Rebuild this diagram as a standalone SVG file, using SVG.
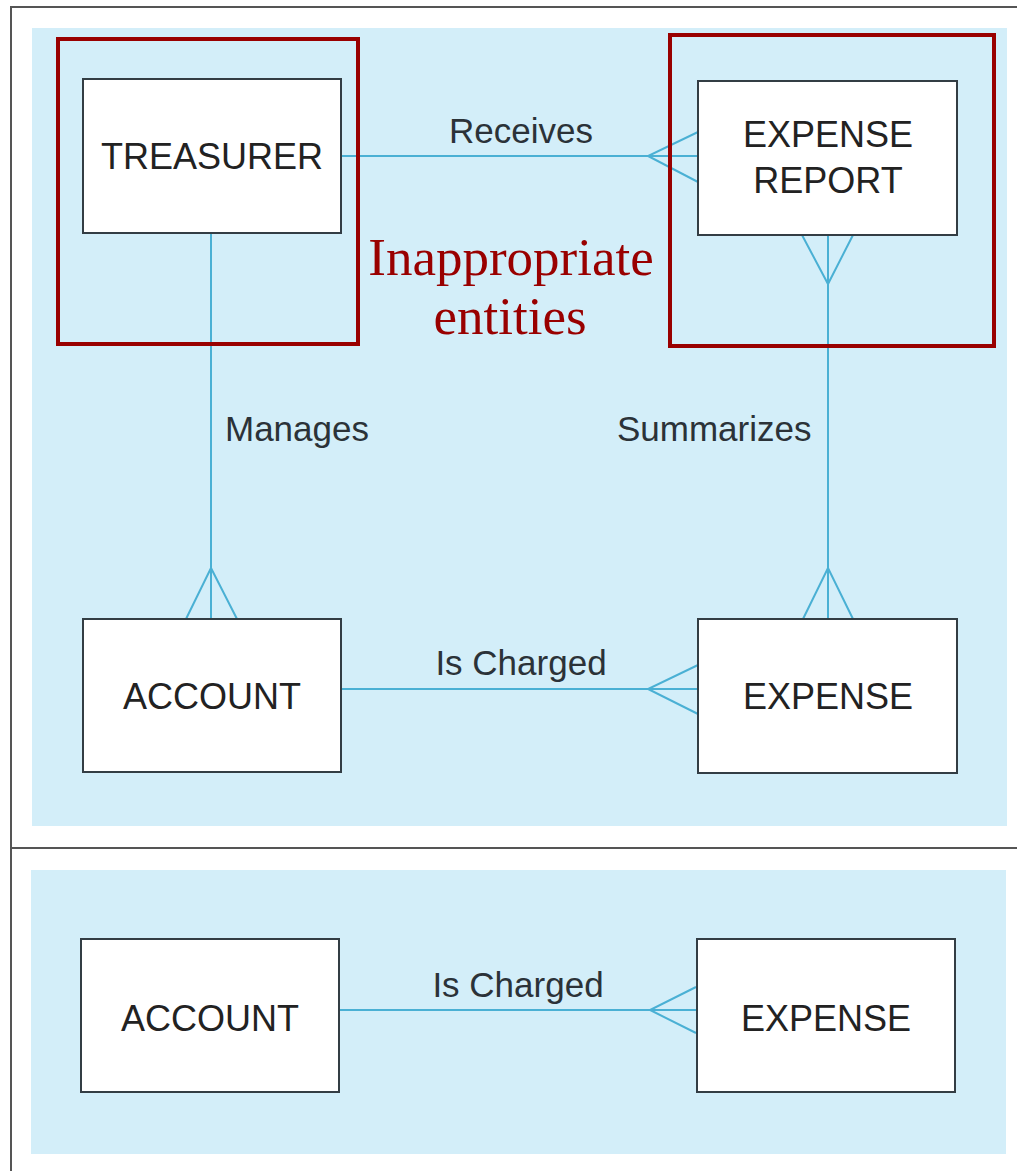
<svg xmlns="http://www.w3.org/2000/svg" width="1017" height="1171" viewBox="0 0 1017 1171">
  <style>
    .panel { fill: #d3eef9; }
    .frame { fill: none; stroke: #555; stroke-width: 2; }
    .entity { fill: #ffffff; stroke: #333d44; stroke-width: 2; }
    .name { font-family: "Liberation Sans", Arial, sans-serif; font-size: 36px; fill: #222; text-anchor: middle; }
    .rel { font-family: "Liberation Sans", Arial, sans-serif; font-size: 35px; fill: #2b3238; }
    .link { fill: none; stroke: #4ab0d4; stroke-width: 2; }
    .mark { fill: none; stroke: #990000; stroke-width: 4; }
    .note { font-family: "Liberation Serif", "Times New Roman", serif; font-size: 53px; fill: #990000; text-anchor: middle; }
  </style>

  <!-- page background and frame -->
  <rect x="0" y="0" width="1017" height="1171" fill="#ffffff"/>
  <path class="frame" d="M11,1171 V7 H1017"/>
  <line class="frame" x1="11" y1="848" x2="1017" y2="848"/>

  <!-- shaded panels -->
  <rect class="panel" x="32" y="28" width="975" height="798"/>
  <rect class="panel" x="31" y="870" width="975" height="284"/>

  <!-- connectors -->
  <g id="connectors">
    <!-- Receives: TREASURER to EXPENSE REPORT (many) -->
    <line class="link" x1="341" y1="156" x2="698" y2="156"/>
    <path class="link" d="M698,132 L648,156 L698,182"/>
    <!-- Manages: TREASURER to ACCOUNT (many) -->
    <line class="link" x1="211" y1="233" x2="211" y2="619"/>
    <path class="link" d="M186,619 L211,568 L237,619"/>
    <!-- Summarizes: EXPENSE REPORT (many) to EXPENSE (many) -->
    <line class="link" x1="828" y1="235" x2="828" y2="619"/>
    <path class="link" d="M802,235 L828,284 L853,235"/>
    <path class="link" d="M803,619 L828,568 L853,619"/>
    <!-- Is Charged: ACCOUNT to EXPENSE (many) -->
    <line class="link" x1="341" y1="689" x2="698" y2="689"/>
    <path class="link" d="M698,665 L648,689 L698,714"/>
    <!-- lower model: Is Charged -->
    <line class="link" x1="339" y1="1010" x2="696" y2="1010"/>
    <path class="link" d="M696,987 L650,1010 L696,1033"/>
  </g>

  <!-- relationship labels -->
  <text class="rel" x="521" y="143" text-anchor="middle">Receives</text>
  <text class="rel" x="225" y="441">Manages</text>
  <text class="rel" x="617" y="441">Summarizes</text>
  <text class="rel" x="521" y="675" text-anchor="middle">Is Charged</text>
  <text class="rel" x="518" y="997" text-anchor="middle">Is Charged</text>

  <!-- entities -->
  <g id="treasurer">
    <rect class="entity" x="83" y="79" width="258" height="154"/>
    <text class="name" x="212" y="169">TREASURER</text>
  </g>
  <g id="expense-report">
    <rect class="entity" x="698" y="81" width="259" height="154"/>
    <text class="name" x="828" y="147">EXPENSE</text>
    <text class="name" x="828" y="193">REPORT</text>
  </g>
  <g id="account">
    <rect class="entity" x="83" y="619" width="258" height="153"/>
    <text class="name" x="212" y="709">ACCOUNT</text>
  </g>
  <g id="expense">
    <rect class="entity" x="698" y="619" width="259" height="154"/>
    <text class="name" x="828" y="709">EXPENSE</text>
  </g>
  <g id="account-2">
    <rect class="entity" x="81" y="939" width="258" height="153"/>
    <text class="name" x="210" y="1031">ACCOUNT</text>
  </g>
  <g id="expense-2">
    <rect class="entity" x="697" y="939" width="258" height="153"/>
    <text class="name" x="826" y="1031">EXPENSE</text>
  </g>

  <!-- highlighted entities -->
  <g id="highlight">
    <rect class="mark" x="58" y="39" width="300" height="305"/>
    <rect class="mark" x="670" y="35" width="324" height="311"/>
    <text class="note" x="511" y="275">Inappropriate</text>
    <text class="note" x="510" y="334">entities</text>
  </g>
</svg>
